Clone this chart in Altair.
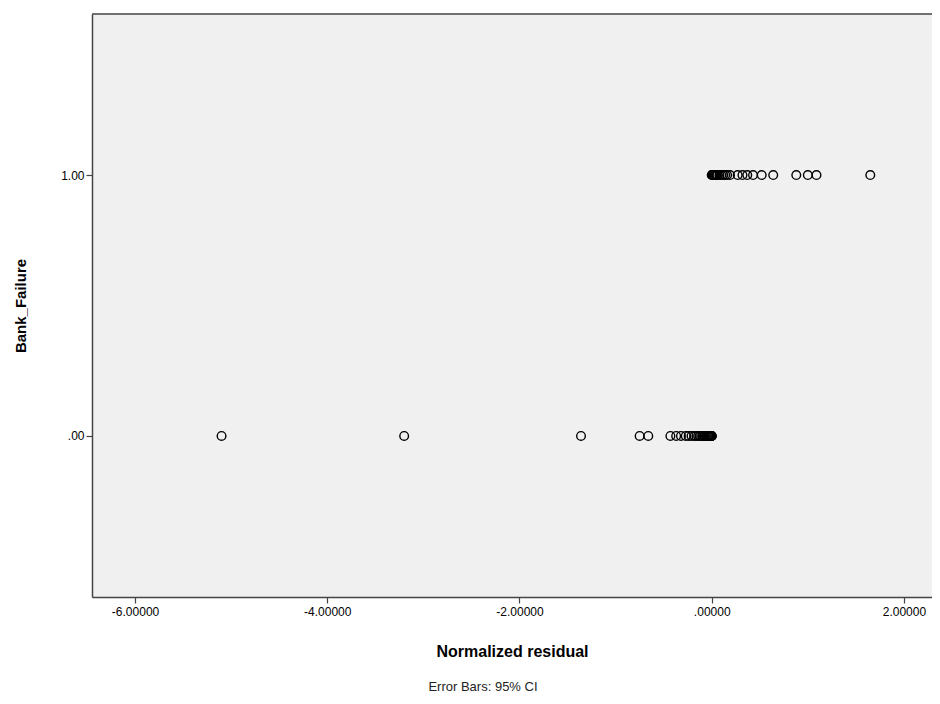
import altair as alt
import pandas as pd

# Normalized residuals for Bank_Failure = 0
resid_0 = [-5.10, -3.20, -1.36, -0.75, -0.66, -0.43, -0.37, -0.32, -0.27, -0.24,
           -0.21, -0.18, -0.16, -0.14, -0.12, -0.10, -0.09, -0.08, -0.07, -0.06,
           -0.05, -0.04, -0.035, -0.03, -0.025, -0.02, -0.015, -0.01, -0.008,
           -0.005, -0.003, -0.002, -0.001, 0.0]
# Normalized residuals for Bank_Failure = 1
resid_1 = [0.0, 0.005, 0.01, 0.02, 0.03, 0.04, 0.05, 0.06, 0.08, 0.10, 0.12,
           0.14, 0.16, 0.19, 0.27, 0.32, 0.37, 0.43, 0.52, 0.64, 0.88, 1.00,
           1.09, 1.65]

x_ticks = [-6, -4, -2, 0, 2]
y_ticks = [0, 1]

df = pd.DataFrame({
    "resid": resid_0 + resid_1,
    "fail": [0] * len(resid_0) + [1] * len(resid_1),
})

W, H = 840, 583
XDOM = [-6.448, 2.292]
YDOM = [-0.617, 1.617]
FONT = "Liberation Sans"
AX = "#444444"

bg = alt.Chart(pd.DataFrame({"a": [0]})).mark_rect(fill="#F0F0F0", stroke=None).encode(
    x=alt.value(0), x2=alt.value(W), y=alt.value(0), y2=alt.value(H)
)

points = alt.Chart(df).mark_point(
    shape="circle", filled=False, color="black", size=75, strokeWidth=1.4, opacity=1
).encode(
    x=alt.X("resid:Q", scale=alt.Scale(domain=XDOM, nice=False, zero=False),
            axis=alt.Axis(values=x_ticks, title="Normalized residual",
                          labelExpr="datum.value == 0 ? '.00000' : replace(format(datum.value, '.5f'), '\u2212', '-')",
                          grid=False, domainColor=AX, domainWidth=1.5,
                          tickColor=AX, tickSize=6, tickWidth=1.2, zindex=1,
                          labelFont=FONT, labelFontSize=12, labelColor="#000",
                          labelPadding=3,
                          titleFont=FONT, titleFontSize=16, titleFontWeight="bold",
                          titleColor="#000", titleBaseline="middle", titleY=54)),
    y=alt.Y("fail:Q", scale=alt.Scale(domain=YDOM, nice=False, zero=False),
            axis=alt.Axis(values=y_ticks, title="Bank_Failure",
                          labelExpr="datum.value == 0 ? '.00' : format(datum.value, '.2f')",
                          grid=False, domainColor=AX, domainWidth=1.5,
                          tickColor=AX, tickSize=6, tickWidth=1.2, zindex=1,
                          labelFont=FONT, labelFontSize=12, labelColor="#000",
                          labelPadding=2,
                          titleFont=FONT, titleFontSize=15, titleFontWeight="bold",
                          titleColor="#000", titleBaseline="middle", titleX=-72,
                          titleAngle=-90)),
)

top_border = alt.Chart(pd.DataFrame({"a": [0]})).mark_rule(color=AX, strokeWidth=1.5).encode(
    x=alt.value(0), x2=alt.value(W), y=alt.value(0)
)

note = alt.Chart(pd.DataFrame({"t": ["Error Bars: 95% CI"]})).mark_text(
    font=FONT, fontSize=13, color="#222", align="center", baseline="middle"
).encode(text="t:N", x=alt.value(391), y=alt.value(673))

chart = alt.layer(bg, points, top_border, note).properties(
    width=W, height=H,
    autosize=alt.AutoSizeParams(type="none"),
    padding={"left": 84, "top": 6, "right": 0, "bottom": 102},
).configure_view(stroke=None).configure(background="white")

chart.save("out.html", embed_options={"renderer": "svg", "actions": False})
